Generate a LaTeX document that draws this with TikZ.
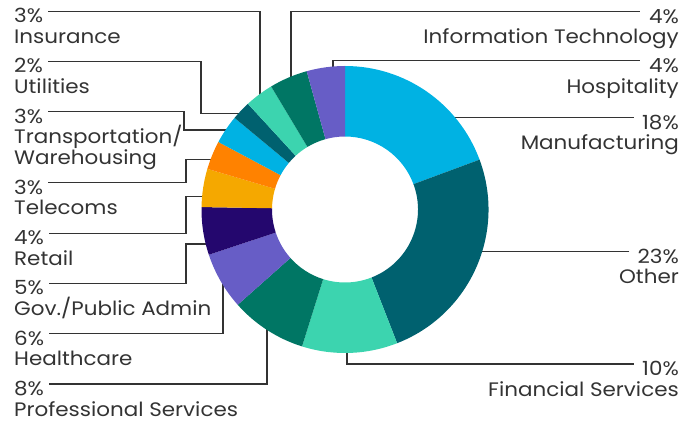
\documentclass[tikz,border=0pt]{standalone}
\usepackage{fontspec}
\setmainfont[FakeStretch=1.1]{Poppins}
\definecolor{sky}{HTML}{00B2E3}
\definecolor{petrol}{HTML}{00616F}
\definecolor{mint}{HTML}{3CD4AF}
\definecolor{pine}{HTML}{007664}
\definecolor{lilac}{HTML}{675DC6}
\definecolor{indigo}{HTML}{24076E}
\definecolor{amber}{HTML}{F5A800}
\definecolor{tangerine}{HTML}{FF8200}
\definecolor{ink}{HTML}{333333}
\tikzset{
  lead/.style={draw=ink, line width=1.1pt},
  lbl/.style={inner sep=0, text=ink, font=\fontsize{19.5}{21}\selectfont},
  lft/.style={lbl, anchor=base west},
  rgt/.style={lbl, anchor=base east}
}
\begin{document}
\begin{tikzpicture}[x=1pt,y=1pt]
    \useasboundingbox (0,0) rectangle (699,423);
    % left labels
    \node[lft] (insP) at (14,400.3) {3\%};
    \node[lft] (insN) at (14,379.6) {Insurance};
    \node[lft] (utiP) at (14,350) {2\%};
    \node[lft] (utiN) at (14,329.3) {Utilities};
    \node[lft] (traP) at (14,299.7) {3\%};
    \node[lft] (traN) at (14,279) {Transportation/};
    \node[lft] (traW) at (14,258.3) {Warehousing};
    \node[lft] (telP) at (14,228.7) {3\%};
    \node[lft] (telN) at (14,208) {Telecoms};
    \node[lft] (retP) at (14,178.4) {4\%};
    \node[lft] (retN) at (14,157.7) {Retail};
    \node[lft] (govP) at (14,128.1) {5\%};
    \node[lft] (govN) at (14,107.4) {Gov./Public Admin};
    \node[lft] (heaP) at (14,77.8) {6\%};
    \node[lft] (heaN) at (14,57.1) {Healthcare};
    \node[lft] (proP) at (14,27.5) {8\%};
    \node[lft] (proN) at (14,6.8) {Professional Services};
    % right labels
    \node[rgt] (itP) at (679,399.7) {4\%};
    \node[rgt] (itN) at (679,379) {Information Technology};
    \node[rgt] (hosP) at (679,350.3) {4\%};
    \node[rgt] (hosN) at (679,329.6) {Hospitality};
    \node[rgt] (manP) at (679,293.7) {18\%};
    \node[rgt] (manN) at (679,273) {Manufacturing};
    \node[rgt] (othP) at (679,159.7) {23\%};
    \node[rgt] (othN) at (679,139.7) {Other};
    \node[rgt] (finP) at (679,47) {10\%};
    \node[rgt] (finN) at (679,26.3) {Financial Services};
    % where the leaders meet the ring
    \coordinate (ins-pt) at (260,320);
    \coordinate (uti-pt) at (250,309.7);
    \coordinate (tra-pt) at (232,293);
    \coordinate (tel-pt) at (218,263.7);
    \coordinate (ret-pt) at (210,226.5);
    \coordinate (gov-pt) at (212,179);
    \coordinate (hea-pt) at (223,145);
    \coordinate (pro-pt) at (267,100);
    \coordinate (it-pt) at (291,340);
    \coordinate (hos-pt) at (333,345);
    \coordinate (man-pt) at (440,290);
    \coordinate (oth-pt) at (470,180);
    \coordinate (fin-pt) at (347,80);
    % leaders
    \draw[lead] ([shift={(5,11.5)}]insP.base east) -| (ins-pt);
    \draw[lead] ([shift={(5,11.5)}]utiP.base east) -| ([xshift=-49]uti-pt) -- (uti-pt);
    \draw[lead] ([shift={(5,11.5)}]traP.base east) -| ([xshift=-48]tra-pt) -- (tra-pt);
    \draw[lead] ([shift={(5,11.5)}]telP.base east) -| ([xshift=-32]tel-pt) -- (tel-pt);
    \draw[lead] ([shift={(5,11.5)}]retP.base east) -| ([xshift=-24]ret-pt) -- (ret-pt);
    \draw[lead] ([shift={(5,11.5)}]govP.base east) -| ([xshift=-26]gov-pt) -- (gov-pt);
    \draw[lead] ([shift={(5,11.5)}]heaP.base east) -| (hea-pt);
    \draw[lead] ([shift={(5,11.5)}]proP.base east) -| (pro-pt);
    \draw[lead] ([shift={(-9,12)}]itP.base west) -| (it-pt);
    \draw[lead] ([shift={(-9,12)}]hosP.base west) -| (hos-pt);
    \draw[lead] ([shift={(-8,12)}]manP.base west) -| (man-pt);
    \draw[lead] ([shift={(-8,12)}]othP.base west) -| (oth-pt);
    \draw[lead] ([shift={(-8,12)}]finP.base west) -| (fin-pt);
    % ring
    \begin{scope}[shift={(345,213.5)}]
        \fill[sky] (90:143.5) arc (90:20.32:143.5) -- (20.32:73) arc (20.32:90:73) -- cycle;
        \fill[petrol] (20.32:143.5) arc (20.32:-68.71:143.5) -- (-68.71:73) arc (-68.71:20.32:73) -- cycle;
        \fill[mint] (-68.71:143.5) arc (-68.71:-107.42:143.5) -- (-107.42:73) arc (-107.42:-68.71:73) -- cycle;
        \fill[pine] (-107.42:143.5) arc (-107.42:-138.39:143.5) -- (-138.39:73) arc (-138.39:-107.42:73) -- cycle;
        \fill[lilac] (-138.39:143.5) arc (-138.39:-161.61:143.5) -- (-161.61:73) arc (-161.61:-138.39:73) -- cycle;
        \fill[indigo] (-161.61:143.5) arc (-161.61:-180.97:143.5) -- (-180.97:73) arc (-180.97:-161.61:73) -- cycle;
        \fill[amber] (-180.97:143.5) arc (-180.97:-196.45:143.5) -- (-196.45:73) arc (-196.45:-180.97:73) -- cycle;
        \fill[tangerine] (-196.45:143.5) arc (-196.45:-208.06:143.5) -- (-208.06:73) arc (-208.06:-196.45:73) -- cycle;
        \fill[sky] (-208.06:143.5) arc (-208.06:-219.68:143.5) -- (-219.68:73) arc (-219.68:-208.06:73) -- cycle;
        \fill[petrol] (-219.68:143.5) arc (-219.68:-227.42:143.5) -- (-227.42:73) arc (-227.42:-219.68:73) -- cycle;
        \fill[mint] (-227.42:143.5) arc (-227.42:-239.03:143.5) -- (-239.03:73) arc (-239.03:-227.42:73) -- cycle;
        \fill[pine] (-239.03:143.5) arc (-239.03:-254.52:143.5) -- (-254.52:73) arc (-254.52:-239.03:73) -- cycle;
        \fill[lilac] (-254.52:143.5) arc (-254.52:-270:143.5) -- (-270:73) arc (-270:-254.52:73) -- cycle;
    \end{scope}
\end{tikzpicture}
\end{document}
